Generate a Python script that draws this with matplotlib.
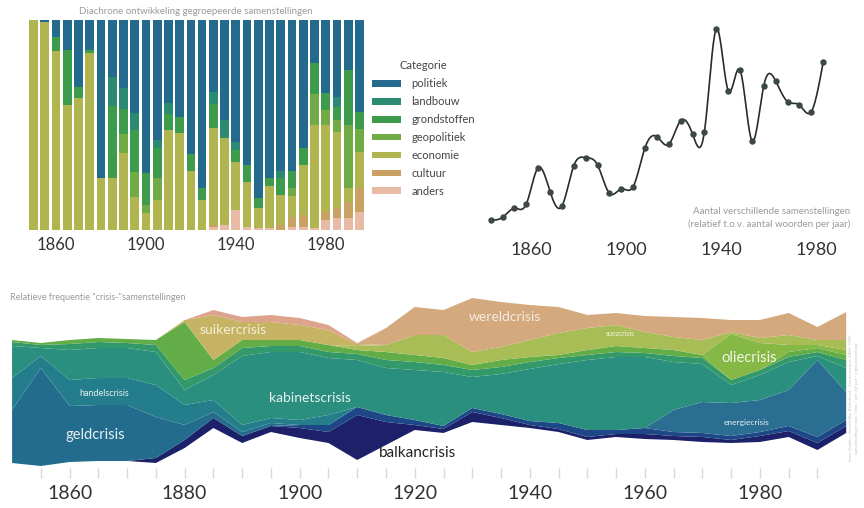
import numpy as np
import matplotlib
matplotlib.use('Agg')
import matplotlib.pyplot as plt
from matplotlib.patches import Patch
from matplotlib.ticker import FixedLocator, FuncFormatter

plt.rcParams['font.family'] = ['Lato', 'DejaVu Sans']

# --- Gegevens: gegroepeerde samenstellingen (percentage per vijf jaar) ---
bar_years = list(range(1850, 1996, 5))
politiek = [0, 0.8, 7.9, 14.3, 31.7, 14.3, 75.4, 27, 32.5, 44.4, 73, 57.1, 39.7, 46, 64,
            80.2, 34.1, 47.6, 58, 69, 84.9, 75, 72, 72, 61.1, 20.6, 34.9, 36.5, 23.8, 43.7]
landbouw = [0, 0, 0, 0, 0, 0, 0, 14, 10, 8, 0, 4, 5, 0, 0,
            0, 6, 8.7, 4, 0, 0, 0, 3, 0, 0, 0, 0, 5, 0, 0]
grondstoffen = [0, 0, 7.1, 26.2, 5.6, 1.6, 0, 34.4, 12, 20, 15, 14, 7.7, 7.9, 7.9,
                5.6, 11.5, 0, 5.5, 8, 4.8, 4, 8.1, 8, 7.9, 14.4, 8, 6, 26, 8]
geopolitiek = [0, 0, 0, 0, 0, 0, 0, 0, 9, 11.7, 4, 10.6, 0, 0, 0,
               0, 0, 0, 0, 0, 0, 0, 0, 4, 0, 15, 7.1, 5.7, 30.3, 11]
economie = [100, 99.2, 85, 59.5, 62.7, 84.1, 24.6, 24.6, 36.5, 15.9, 8, 14.3, 47.6, 46.1, 28.1,
            14.2, 46, 41.3, 23, 21.4, 9.5, 20.2, 14.5, 10, 23.8, 49.2, 41.2, 36.5, 6.5, 17.5]
cultuur = [0, 0, 0, 0, 0, 0, 0, 0, 0, 0, 0, 0, 0, 0, 0,
           0, 1.2, 0, 0, 0, 0, 0, 2.4, 4.5, 5.6, 0, 4, 4.8, 7.9, 11.1]
anders = [0, 0, 0, 0, 0, 0, 0, 0, 0, 0, 0, 0, 0, 0, 0,
          0, 1.2, 2.4, 9.5, 1.6, 0.8, 0.8, 0, 1.5, 1.6, 0.8, 4.8, 5.5, 5.5, 8.7]

categories = ['politiek', 'landbouw', 'grondstoffen', 'geopolitiek', 'economie', 'cultuur', 'anders']
cat_colors = ['#236a8c', '#2a8b72', '#3c9c4b', '#70ab45', '#b1b54f', '#c9a162', '#e9baa6']

# --- Gegevens: aantal verschillende samenstellingen (relatief) ---
line_years = list(range(1843, 1984, 5))
line_values = [0.20, 0.28, 0.55, 0.68, 1.77, 1.05, 0.62, 1.83, 2.07, 1.85, 1.00, 1.13, 1.20, 2.37, 2.70,
               2.47, 3.18, 2.78, 2.85, 5.93, 4.08, 4.70, 2.58, 4.23, 4.37, 3.75, 3.65, 3.45, 4.93]

# --- Gegevens: relatieve frequentie "crisis-"samenstellingen ---
stream_years = list(range(1850, 1996, 5))
stream_offset = [7, 4, 8, 9, 9, 7, 22, 42, 27, 38, 32, 27, 10, 25, 40,
                 37, 48, 45, 42, 38, 30, 33, 31, 30, 28, 27, 28, 33, 20, 37]
balkancrisis = [0, 0, 0, 0, 0, 5, 8, 10, 7, 6, 10, 11, 45, 23, 5,
                4, 10, 7, 3, 3, 3, 3, 5, 4, 5, 3, 6, 6, 7, 7]
overig_blauw = [0, 0, 0, 0, 0, 0, 0, 0, 0, 0, 3, 7, 8, 7, 5,
                3, 4, 4, 4, 6, 7, 4, 6, 4, 4, 4, 4, 5, 6, 6]
energiecrisis = [0, 0, 0, 0, 0, 0, 0, 0, 0, 0, 0, 0, 0, 0, 0,
                 0, 0, 0, 0, 0, 0, 0, 0, 22, 31, 33, 32, 36, 77, 28]
geldcrisis = [53, 98, 56, 56, 56, 41, 15, 6, 4, 3, 0, 0, 0, 0, 0,
              0, 0, 0, 0, 0, 0, 0, 0, 0, 0, 0, 0, 0, 0, 0]
handelscrisis = [32, 12, 26, 27, 27, 32, 20, 12, 7, 5, 5, 10, 0, 0, 0,
                 0, 0, 0, 0, 0, 0, 0, 0, 0, 0, 0, 0, 0, 0, 0]
kabinetscrisis = [32, 8, 30, 30, 30, 33, 15, 25, 69, 66, 68, 57, 47, 47, 50,
                  54, 31, 40, 52, 59, 70, 73, 71, 48, 38, 18, 25, 28, 4, 24]
overig_groen1 = [4, 3, 6, 6, 5, 7, 10, 7, 8, 6, 6, 6, 6, 8, 8,
                 7, 7, 7, 7, 6, 5, 5, 4, 6, 6, 5, 5, 5, 4, 8]
overig_groen2 = [2, 2, 4, 4, 4, 5, 58, 8, 8, 6, 6, 7, 4, 8, 7,
                 7, 5, 7, 5, 3, 5, 6, 5, 6, 3, 0, 0, 5, 4, 5]
oliecrisis = [0, 0, 0, 0, 0, 0, 0, 0, 0, 0, 0, 0, 0, 0, 0,
              0, 0, 0, 0, 0, 0, 0, 0, 0, 0, 46, 27, 7, 3, 5]
suezcrisis = [0, 0, 0, 0, 0, 0, 0, 0, 0, 0, 0, 0, 4, 7, 20,
              23, 13, 13, 17, 22, 22, 21, 16, 13, 15, 2, 5, 10, 5, 10]
suikercrisis = [0, 0, 0, 0, 0, 0, 2, 45, 18, 18, 15, 15, 2, 0, 0,
                0, 0, 0, 0, 0, 0, 0, 0, 0, 0, 0, 0, 0, 0, 0]
wereldcrisis = [0, 0, 0, 0, 0, 0, 0, 0, 0, 0, 0, 0, 0, 17, 28,
                25, 54, 45, 35, 26, 13, 12, 16, 20, 22, 12, 18, 22, 13, 28]
overig_top = [0, 0, 0, 0, 0, 0, 0, 5, 5, 7, 7, 5, 1, 0, 0,
              0, 0, 0, 0, 0, 0, 0, 0, 0, 0, 0, 0, 0, 0, 0]

stream_layers = [balkancrisis, overig_blauw, energiecrisis, geldcrisis, handelscrisis,
                 kabinetscrisis, overig_groen1, overig_groen2, oliecrisis, suezcrisis,
                 suikercrisis, wereldcrisis, overig_top]
stream_colors = ['#1c216a', '#1e4787', '#2a6e92', '#236c8e', '#247d8b', '#2a8f7f', '#33996a',
                 '#63ad48', '#86b845', '#a9bd57', '#c6b464', '#d4a97e', '#dca48d']


def natural_spline(x, y, num=600):
    x = np.asarray(x, float)
    y = np.asarray(y, float)
    n = len(x)
    h = np.diff(x)
    A = np.zeros((n, n))
    b = np.zeros(n)
    A[0, 0] = A[-1, -1] = 1
    for i in range(1, n - 1):
        A[i, i - 1] = h[i - 1]
        A[i, i] = 2 * (h[i - 1] + h[i])
        A[i, i + 1] = h[i]
        b[i] = 6 * ((y[i + 1] - y[i]) / h[i] - (y[i] - y[i - 1]) / h[i - 1])
    M = np.linalg.solve(A, b)
    xs = np.linspace(x[0], x[-1], num)
    idx = np.clip(np.searchsorted(x, xs) - 1, 0, n - 2)
    x0, x1 = x[idx], x[idx + 1]
    hh = x1 - x0
    t0, t1 = x1 - xs, xs - x0
    ys = (M[idx] * t0 ** 3 / (6 * hh) + M[idx + 1] * t1 ** 3 / (6 * hh)
          + (y[idx] / hh - M[idx] * hh / 6) * t0 + (y[idx + 1] / hh - M[idx + 1] * hh / 6) * t1)
    return xs, ys


W, H = 864, 508
fig = plt.figure(figsize=(W / 100, H / 100), dpi=100)


def box(x0, y0, x1, y1):
    # pixelcoordinaten (vanaf linksboven) naar figuurcoordinaten
    return [x0 / W, 1 - y1 / H, (x1 - x0) / W, (y1 - y0) / H]


# Grafiek 1: gestapelde staven
ax1 = fig.add_axes(box(28, 20, 365, 230))
series = [politiek, landbouw, grondstoffen, geopolitiek, economie, cultuur, anders]
bottom = np.zeros(len(bar_years))
for name, vals, col in reversed(list(zip(categories, series, cat_colors))):
    ax1.bar(bar_years, vals, bottom=bottom, width=3.9, color=col, linewidth=0, align='center')
    bottom += np.array(vals)
ax1.set_xlim(1847.5, 1997.5)
ax1.set_ylim(0, 100)
ax1.set_yticks([])
ax1.set_xticks([1860, 1900, 1940, 1980])
ax1.tick_params(axis='x', length=0, pad=5, labelsize=12, labelcolor='#333333')
for s in ax1.spines.values():
    s.set_visible(False)
fig.text(196 / W, 1 - 11 / H, 'Diachrone ontwikkeling gegroepeerde samenstellingen',
         ha='center', va='center', fontsize=7, color='#9a9a9a')

leg_handles = [Patch(facecolor=c, edgecolor='none') for c in cat_colors]
leg = fig.legend(leg_handles, categories, loc='upper left', bbox_to_anchor=(368 / W, 1 - 56 / H),
                 frameon=False, title='Categorie', fontsize=8, title_fontsize=8,
                 handlelength=2.6, handleheight=0.55, labelspacing=0.62, handletextpad=0.9,
                 borderaxespad=0, labelcolor='#444444')
leg.get_title().set_color('#444444')

# Grafiek 2: lijn
ax2 = fig.add_axes(box(475, 20, 850, 235))
xs, ys = natural_spline(line_years, line_values)
ax2.plot(xs, ys, color='#2b2b2b', linewidth=1.2)
ax2.plot(line_years, line_values, 'o', color='#3b4843', markersize=3.6)
ax2.set_xlim(1836.4, 1994.3)
ax2.set_ylim(-0.25, 6.2)
ax2.set_yticks([])
ax2.set_xticks([1860, 1900, 1940, 1980])
ax2.tick_params(axis='x', length=0, pad=5, labelsize=13, labelcolor='#333333')
for s in ax2.spines.values():
    s.set_visible(False)
fig.text(850 / W, 1 - 218 / H,
         'Aantal verschillende samenstellingen\n(relatief t.o.v. aantal woorden per jaar)',
         ha='right', va='center', fontsize=7, color='#9a9a9a', linespacing=1.35)

# Grafiek 3: stroomgrafiek
ax3 = fig.add_axes(box(0, 290, 864, 478))
ax3.stackplot(stream_years, stream_offset, *stream_layers,
              colors=['none'] + stream_colors, linewidth=0.4,
              edgecolor=['none'] + stream_colors)
ax3.set_xlim(1847.9, 1998.1)
ax3.set_ylim(-8, 180)
ax3.set_yticks([])
ax3.xaxis.set_major_locator(FixedLocator(list(range(1855, 1995, 5))))
ax3.xaxis.set_major_formatter(FuncFormatter(lambda v, p: str(int(v)) if int(v) % 20 == 0 else ''))
ax3.tick_params(axis='x', direction='in', length=7, width=1, color='#d8d8d8',
                pad=5, labelsize=14, labelcolor='#333333')
for s in ax3.spines.values():
    s.set_visible(False)

labels = [
    ('geldcrisis', 1864.4, 35, 10.5, '#e6f0f0'),
    ('handelscrisis', 1866.0, 76, 6.5, '#e6f0f0'),
    ('suikercrisis', 1888.4, 140, 10, '#f3efd5'),
    ('kabinetscrisis', 1901.7, 72, 10, '#e8f2ee'),
    ('balkancrisis', 1920.4, 17, 11, '#222222'),
    ('wereldcrisis', 1935.6, 153, 10, '#f6ece2'),
    ('suezcrisis', 1955.7, 137, 5, '#f3f3e0'),
    ('oliecrisis', 1978.2, 112, 10.5, '#f0f5e6'),
    ('energiecrisis', 1977.7, 47, 6, '#e6f0f4'),
]
for txt, x, y, fs, col in labels:
    ax3.text(x, y, txt, ha='center', va='center', fontsize=fs, color=col)

fig.text(10 / W, 1 - 298 / H, 'Relatieve frequentie "crisis-"samenstellingen',
         ha='left', va='center', fontsize=6.5, color='#9a9a9a')
fig.text(854 / W, 1 - 398 / H,
         'bron: Delpher, Koninklijke Bibliotheek \u00b7 krantencorpus 1850\u20131995\n'
         'samenstellingen met "crisis-" per vijf jaar \u00b7 eigen bewerking',
         rotation=90, ha='center', va='center', fontsize=3.2, color='#c4c4c4', linespacing=1.4)

fig.savefig('out.png', dpi=100)
